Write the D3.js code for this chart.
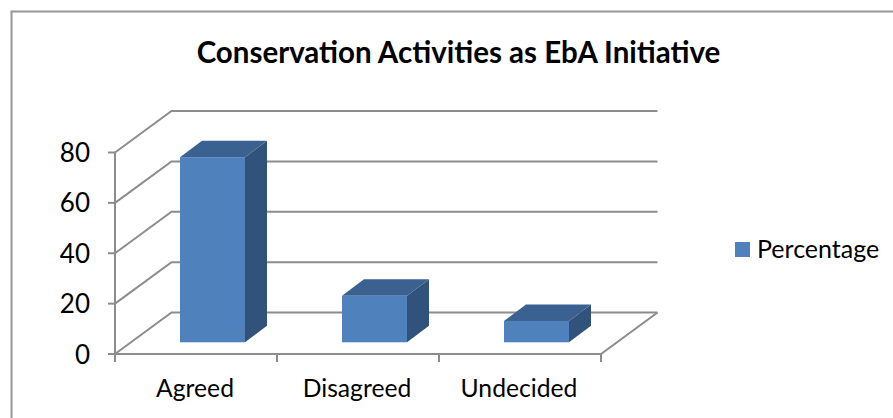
<!DOCTYPE html>
<html><head><meta charset="utf-8">
<script src="https://cdn.jsdelivr.net/npm/d3@7"></script>
<style>html,body{margin:0;padding:0;background:#fff;overflow:hidden}svg{display:block}text{font-family:Lato,"Open Sans",sans-serif;fill:#000}</style>
</head><body><svg id="c" width="893" height="418"></svg>
<script>
const categories = ["Agreed", "Disagreed", "Undecided"];
const seriesName = "Percentage";
const percentage = [73.5, 18.5, 8.5];
const yTicks = [0, 20, 40, 60, 80];
const chartTitle = "Conservation Activities as EbA Initiative";

const svg = d3.select("#c");
const gridColor = "#8c8c8c";
const depth = {dx: 56.5, dy: -41.5};
const barDepth = {dx: 22, dy: -16.5};
const barShift = {dx: 16.5, dy: -11.7};

const x = d3.scaleBand().domain(categories).range([115, 601]).paddingInner(0).paddingOuter(0);
const y = d3.scaleLinear().domain([0, 80]).range([354, 152.5]);
const barW = 65;

// outer frame
svg.append("path").attr("d", "M11.5,418V11.5H893").attr("fill", "none").attr("stroke", "#969696").attr("stroke-width", 2);

svg.append("text").attr("x", 458.5).attr("y", 63).attr("text-anchor", "middle")
  .attr("font-size", 29.5).attr("font-weight", 700).text(chartTitle);

const grid = svg.append("g").attr("fill", "none").attr("stroke", gridColor).attr("stroke-width", 2);
yTicks.forEach(t => {
  const yy = y(t);
  const pts = [[115, yy], [115 + depth.dx, yy + depth.dy], [601 + depth.dx, yy + depth.dy]];
  grid.append("path").attr("d", d3.line()(pts));
  grid.append("path").attr("d", d3.line()([[108, yy], [115, yy]]));
});
// walls and floor
grid.append("path").attr("d", d3.line()([[115, y(80)], [115, y(0)], [601, y(0)], [601 + depth.dx, y(0) + depth.dy]]));
// category ticks
[...categories.map(c => x(c)), x.range()[1]].forEach(px => {
  grid.append("path").attr("d", d3.line()([[px, y(0)], [px, y(0) + 8]]));
});

svg.append("g").selectAll("text").data(yTicks).join("text")
  .attr("x", 90).attr("y", d => y(d) + 9.5).attr("text-anchor", "end").attr("font-size", 26).text(d => d);

svg.append("g").selectAll("text").data(categories).join("text")
  .attr("x", d => x(d) + x.bandwidth() / 2 - 1).attr("y", 397).attr("text-anchor", "middle").attr("font-size", 24.7).text(d => d);

// bars (front, top, side)
const bars = svg.append("g").selectAll("g").data(categories.map((c, i) => ({c, v: percentage[i]}))).join("g");
const bx = d => x(d.c) + x.bandwidth() / 2 - barW / 2 + barShift.dx;
const bBase = y(0) + barShift.dy;
const bTop = d => bBase - (y(0) - y(d.v));
bars.append("path").attr("fill", "#31527a").attr("d", d => d3.line()([
  [bx(d) + barW, bTop(d)], [bx(d) + barW + barDepth.dx, bTop(d) + barDepth.dy],
  [bx(d) + barW + barDepth.dx, bBase + barDepth.dy], [bx(d) + barW, bBase]]) + "Z");
bars.append("path").attr("fill", "#3a618f").attr("d", d => d3.line()([
  [bx(d), bTop(d)], [bx(d) + barDepth.dx, bTop(d) + barDepth.dy],
  [bx(d) + barW + barDepth.dx, bTop(d) + barDepth.dy], [bx(d) + barW, bTop(d)]]) + "Z");
bars.append("rect").attr("fill", "#4f81bd").attr("x", bx).attr("y", bTop).attr("width", barW).attr("height", d => bBase - bTop(d));

// legend
svg.append("rect").attr("x", 735).attr("y", 242).attr("width", 15).attr("height", 15).attr("fill", "#4f81bd");
svg.append("text").attr("x", 757).attr("y", 258).attr("font-size", 25).text(seriesName);
</script></body></html>
